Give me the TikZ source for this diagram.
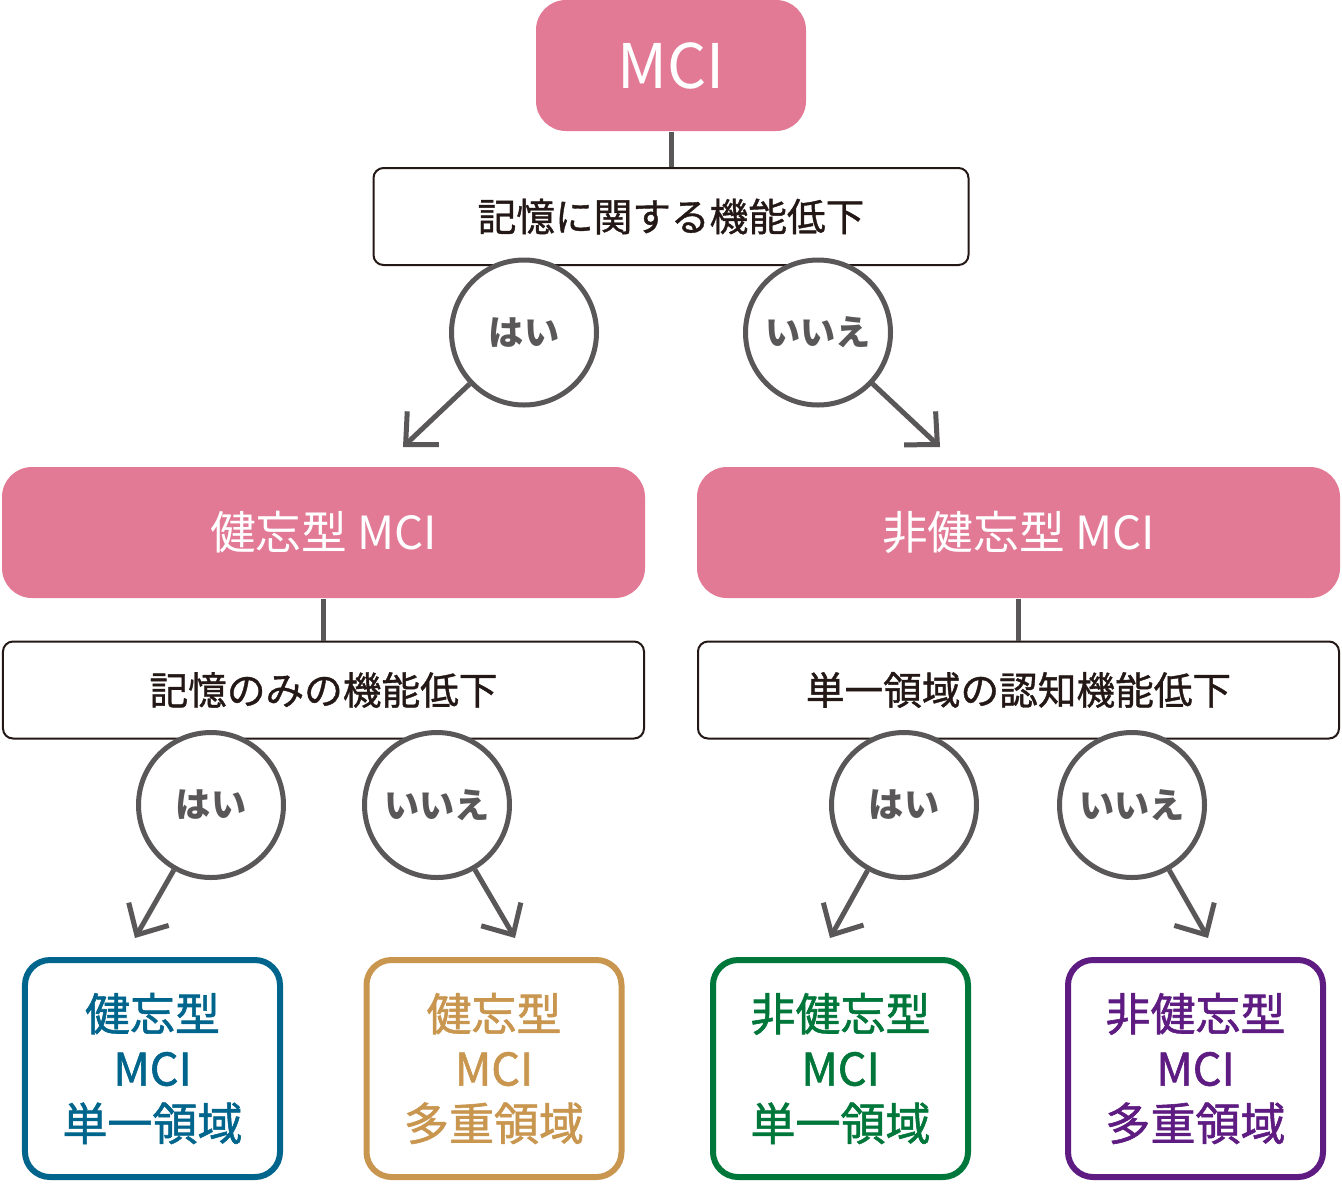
\documentclass[tikz,border=0pt]{standalone}
\usepackage{fontspec}
\setmainfont{Noto Sans CJK JP}
\newfontfamily\midfont{Noto Sans CJK JP}[FakeBold=1.3]
\newfontfamily\lightmid{Noto Sans CJK JP}[FakeBold=1]
\usetikzlibrary{arrows.meta}

\definecolor{mcipink}{HTML}{E27A96}
\definecolor{qgray}{HTML}{595757}
\definecolor{textdark}{HTML}{231815}
\definecolor{kblue}{HTML}{00658C}
\definecolor{korange}{HTML}{C9964F}
\definecolor{kgreen}{HTML}{00773A}
\definecolor{kpurple}{HTML}{5E1B82}

\begin{document}
\begin{tikzpicture}[
    pinkbox/.style={fill=mcipink, rounded corners=0.3cm, text=white, inner sep=0pt},
    askbox/.style={draw=textdark, line width=0.02cm, fill=white, rounded corners=0.1cm,
        minimum height=0.97cm, inner sep=0pt, text=textdark, font=\lightmid\fontsize{11}{13}\selectfont},
    answer/.style={draw=qgray, line width=0.05cm, fill=white, circle, minimum size=1.45cm,
        inner sep=0pt, text=qgray, font=\bfseries\fontsize{10}{12}\selectfont},
    typebox/.style={draw=#1, line width=0.06cm, fill=white, rounded corners=0.25cm,
        minimum width=2.55cm, minimum height=2.17cm, inner sep=0pt, text=#1, align=center,
        font=\midfont\fontsize{12.8}{15.6}\selectfont},
    link/.style={draw=qgray, line width=0.05cm},
    pick/.style={draw=qgray, line width=0.05cm, -{Straight Barb[length=0.24cm, width=0.46cm]}}
]
\useasboundingbox (0,0) rectangle (13.42,-11.83);

% top level
\node[pinkbox, minimum width=2.70cm, minimum height=1.31cm, font=\fontsize{17.5}{20}\selectfont] (mci) at (6.71,-0.655) {MCI};
\node[askbox, minimum width=5.95cm] (q1) at (6.71,-2.165) {記憶に関する機能低下};
\draw[link] (mci) -- (q1);

% second level
\node[pinkbox, minimum width=6.43cm, minimum height=1.31cm, font=\fontsize{13}{16}\selectfont] (amn) at (3.235,-5.325) {健忘型 MCI};
\node[pinkbox, minimum width=6.43cm, minimum height=1.31cm, font=\fontsize{13}{16}\selectfont] (namn) at (10.185,-5.325) {非健忘型 MCI};
\node[askbox, minimum width=6.41cm] (q2) at (3.235,-6.90) {記憶のみの機能低下};
\node[askbox, minimum width=6.41cm] (q3) at (10.185,-6.90) {単一領域の認知機能低下};
\draw[link] (amn) -- (q2);
\draw[link] (namn) -- (q3);

% answers
\node[answer] (y1) at (5.24,-3.325) {はい};
\node[answer] (n1) at (8.18,-3.325) {いいえ};
\node[answer] (y2) at (2.11,-8.05) {はい};
\node[answer] (n2) at (4.37,-8.05) {いいえ};
\node[answer] (y3) at (9.04,-8.05) {はい};
\node[answer] (n3) at (11.32,-8.05) {いいえ};

% arrow ends
\coordinate (t1) at (4.03,-4.47);
\coordinate (t2) at (9.40,-4.47);
\coordinate (t3) at (1.35,-9.38);
\coordinate (t4) at (5.15,-9.38);
\coordinate (t5) at (8.30,-9.38);
\coordinate (t6) at (12.08,-9.38);
\draw[pick] (y1) -- (t1);
\draw[pick] (n1) -- (t2);
\draw[pick] (y2) -- (t3);
\draw[pick] (n2) -- (t4);
\draw[pick] (y3) -- (t5);
\draw[pick] (n3) -- (t6);

% subtypes
\node[typebox=kblue] (aSingle) at (1.525,-10.685) {健忘型\\MCI\\単一領域};
\node[typebox=korange] (aMulti) at (4.94,-10.685) {健忘型\\MCI\\多重領域};
\node[typebox=kgreen] (nSingle) at (8.405,-10.685) {非健忘型\\MCI\\単一領域};
\node[typebox=kpurple] (nMulti) at (11.955,-10.685) {非健忘型\\MCI\\多重領域};
\end{tikzpicture}
\end{document}
